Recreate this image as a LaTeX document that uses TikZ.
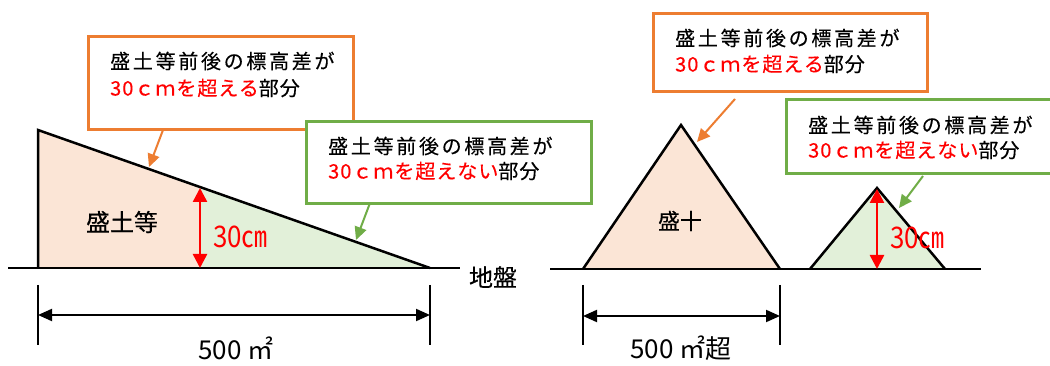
\documentclass[tikz,border=0pt]{standalone}
\usepackage{fontspec}
\setmainfont{Noto Sans CJK JP}
\usetikzlibrary{arrows.meta}
\definecolor{borange}{HTML}{ED7D31}
\definecolor{bgreen}{HTML}{70AD47}
\definecolor{forange}{HTML}{FBE5D6}
\definecolor{fgreen}{HTML}{E2F0D9}
\definecolor{rred}{HTML}{FF0000}
\newcommand{\lineone}[1]{{\fontsize{20}{24}\selectfont\addfontfeature{LetterSpace=13.5,FakeBold=0.3}#1}}
\newcommand{\linetwo}[2]{{\fontsize{20}{24}\selectfont\addfontfeature{LetterSpace=5,FakeBold=0.3}\textcolor{rred}{#1}#2}}
\newcommand{\cmlabel}{\scalebox{0.96}[1.1]{30㎝}}
\begin{document}
\begin{tikzpicture}[x=1pt,y=-1pt,
  obox/.style={draw=borange,line width=3pt,fill=white,rectangle,inner sep=0pt,anchor=north west},
  gbox/.style={draw=bgreen,line width=3pt,fill=white,rectangle,inner sep=0pt,anchor=north west},
  btext/.style={anchor=west,inner sep=0pt},
  oarrow/.style={draw=borange,line width=2pt,-{Triangle[length=13pt,width=12pt]}},
  garrow/.style={draw=bgreen,line width=2pt,-{Triangle[length=13pt,width=12pt]}},
  rarrow/.style={draw=rred,line width=2.5pt,{Triangle[length=14pt,width=14pt]}-{Triangle[length=14pt,width=14pt]}},
  dimarrow/.style={draw=black,line width=2pt,{Triangle[length=14pt,width=12pt]}-{Triangle[length=14pt,width=12pt]}},
  dimtick/.style={draw=black,line width=2pt},
  outline/.style={draw=black,line width=2.5pt,line join=miter},
  ground/.style={draw=black,line width=2.5pt},
  lbl/.style={inner sep=0pt,font=\fontsize{24}{28}\selectfont\addfontfeature{FakeBold=0.3}},
  redlbl/.style={inner sep=0pt,text=rred,font=\fontsize{27}{30}\selectfont},
  dimlbl/.style={inner sep=0pt,font=\fontsize{26}{30}\selectfont}
]
\useasboundingbox (0,0) rectangle (1050,366);
\fill[white] (0,0) rectangle (1050,366);

% ---------- left figure ----------
\fill[forange] (38,268) -- (38,130) -- (200,187) -- (200,268) -- cycle;
\fill[fgreen] (200,187) -- (430,268) -- (200,268) -- cycle;
\draw[outline] (38,268) -- (38,130) -- (430,268);
\draw[ground] (8,268) -- (460,268);

\coordinate (lr1) at (200,188);
\coordinate (lr2) at (200,268);
\draw[rarrow] (lr1) -- (lr2);

\node[lbl] (mori1) at (122,222) {盛土等};
\node[redlbl,anchor=west] (cm1) at (213,237) {\cmlabel};
\node[lbl] (jiban) at (493,277) {地盤};

\draw[dimtick] (38,285) -- (38,345);
\draw[dimtick] (430,285) -- (430,345);
\coordinate (ld1) at (38,315);
\coordinate (ld2) at (430,315);
\draw[dimarrow] (ld1) -- (ld2);
\node[dimlbl] (area1) at (236,348) {500 ㎡};

% left boxes
\node[obox,minimum width=265pt,minimum height=93pt] (ob1) at (87,35) {};
\node[btext] (ob1a) at (110,61) {\lineone{盛土等前後の標高差が}};
\node[btext] (ob1b) at (110,88) {\linetwo{30ｃｍを超える}{部分}};
\coordinate (oa1s) at (163,130);
\coordinate (oa1e) at (149,167);
\draw[oarrow] (oa1s) -- (oa1e);

\node[gbox,minimum width=285pt,minimum height=82pt] (gb1) at (305,120) {};
\node[btext] (gb1a) at (328,146) {\lineone{盛土等前後の標高差が}};
\node[btext] (gb1b) at (328,171) {\linetwo{30ｃｍを超えない}{部分}};
\coordinate (ga1s) at (370,203);
\coordinate (ga1e) at (356,240);
\draw[garrow] (ga1s) -- (ga1e);

% ---------- right figure ----------
\fill[forange] (583,269) -- (681,125) -- (780,269) -- cycle;
\fill[fgreen] (810,269) -- (877,188) -- (945,269) -- cycle;
\draw[outline] (583,269) -- (681,125) -- (780,269);
\draw[outline] (810,269) -- (877,188) -- (945,269);
\draw[ground] (550,269) -- (981,269);

\node[inner sep=0pt,font=\fontsize{22}{26}\selectfont\addfontfeature{FakeBold=0.3}] (mori2) at (680,221) {盛十};

\coordinate (rr1) at (877,189);
\coordinate (rr2) at (877,269);
\draw[rarrow] (rr1) -- (rr2);
\node[redlbl,anchor=west] (cm2) at (890,238) {\cmlabel};

\draw[dimtick] (583,285) -- (583,345);
\draw[dimtick] (780,285) -- (780,345);
\coordinate (rd1) at (583,316);
\coordinate (rd2) at (780,316);
\draw[dimarrow] (rd1) -- (rd2);
\node[dimlbl] (area2) at (681,348) {500 ㎡超};

% right boxes
\node[obox,minimum width=274pt,minimum height=78pt] (ob2) at (652,12) {};
\node[btext] (ob2a) at (675,38) {\lineone{盛土等前後の標高差が}};
\node[btext] (ob2b) at (675,64) {\linetwo{30ｃｍを超える}{部分}};
\coordinate (oa2s) at (735,99);
\coordinate (oa2e) at (697,142);
\draw[oarrow] (oa2s) -- (oa2e);

\node[gbox,minimum width=280pt,minimum height=74pt] (gb2) at (785,98) {};
\node[btext] (gb2a) at (808,125) {\lineone{盛土等前後の標高差が}};
\node[btext] (gb2b) at (808,150) {\linetwo{30ｃｍを超えない}{部分}};
\coordinate (ga2s) at (923,176);
\coordinate (ga2e) at (899,208);
\draw[garrow] (ga2s) -- (ga2e);
\end{tikzpicture}
\end{document}
